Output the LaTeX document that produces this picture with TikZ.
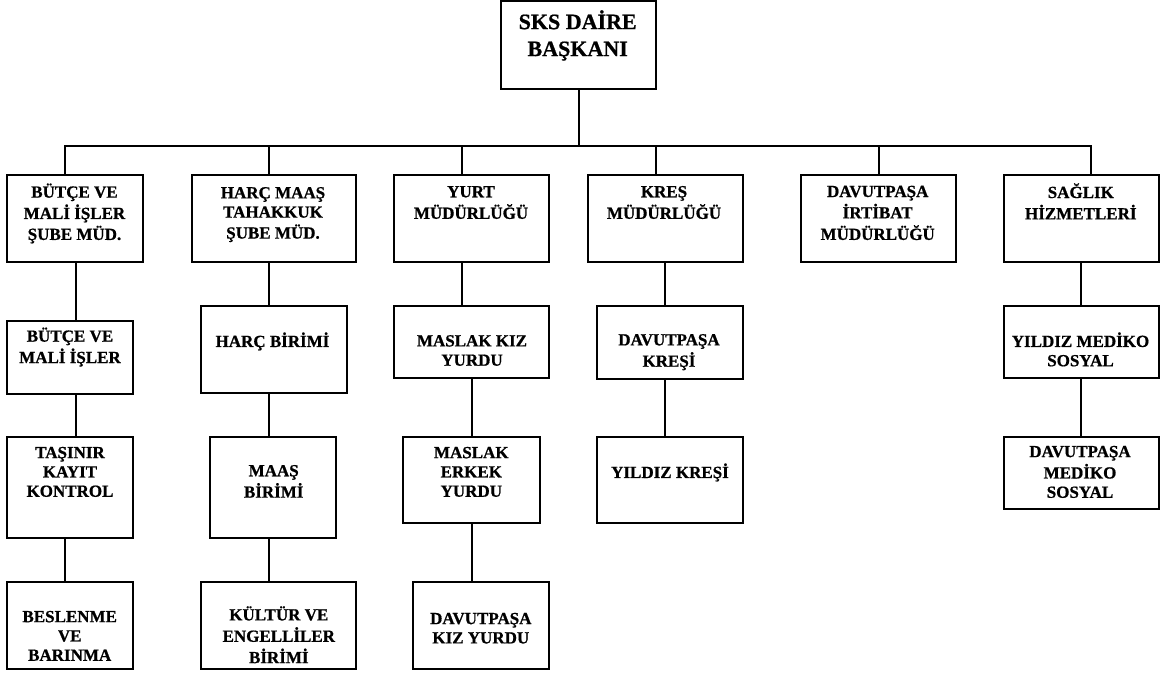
\documentclass[tikz,border=0pt]{standalone}
\usepackage{fontspec}
\setmainfont{Liberation Serif}
% heavy bold face used for every label
\newfontfamily\heavyfont{Liberation Serif Bold}[FakeBold=0.8]
% box given by its left, top, right and bottom edges
\newcommand\orgbox[5]{\node[orgbox, minimum width={#4-#2}, minimum height={#5-#3}] (#1) at ({(#2+#4)/2},{(#3+#5)/2}) {};}
% label text centred at a point
\newcommand\orglabel[4]{\node[lbl] (#1) at (#2,#3) {#4};}
\newcommand\ls{\strut}
\begin{document}
\begin{tikzpicture}[x=1pt,y=-1pt,
  orgbox/.style={draw, line width=1.2pt, inner sep=0pt},
  wire/.style={line width=1.2pt},
  lbl/.style={align=center, font=\heavyfont\fontsize{17}{19.3}\selectfont, inner sep=0pt},
  headlbl/.style={align=center, font=\heavyfont\fontsize{22}{27}\selectfont, inner sep=0pt}]
\useasboundingbox (0,0) rectangle (1162,673);

% head of the department
\orgbox{sks}{501}{1}{656}{89}
\node[headlbl] (sks-t) at (577.7,37.2) {\ls SKS DAİRE\\\ls BAŞKANI};

% first level
\orgbox{b1}{7}{175}{143}{262}
\orgbox{b2}{192}{175}{356}{262}
\orgbox{b3}{394}{175}{549}{262}
\orgbox{b4}{588}{175}{743}{262}
\orgbox{b5}{801}{175}{956}{262}
\orgbox{b6}{1004}{175}{1159}{262}
\orglabel{b1-t}{74.5}{214.6}{\ls BÜTÇE VE\\\ls MALİ İŞLER\\\ls ŞUBE MÜD.}
\orglabel{b2-t}{273}{214.6}{\ls HARÇ MAAŞ\\\ls TAHAKKUK\\\ls ŞUBE MÜD.}
\orglabel{b3-t}{471}{204.2}{\ls YURT\\\ls MÜDÜRLÜĞÜ}
\orglabel{b4-t}{664}{204.2}{\ls KREŞ\\\ls MÜDÜRLÜĞÜ}
\orglabel{b5-t}{877.7}{214.6}{\ls DAVUTPAŞA\\\ls İRTİBAT\\\ls MÜDÜRLÜĞÜ}
\orglabel{b6-t}{1080.8}{204.2}{\ls SAĞLIK\\\ls HİZMETLERİ}

% budget branch
\orgbox{c1}{7}{321}{133}{394}
\orgbox{c2}{7}{437}{133}{538}
\orgbox{c3}{7}{582}{133}{669}
\orglabel{c1-t}{70}{348.2}{\ls BÜTÇE VE\\\ls MALİ İŞLER}
\orglabel{c2-t}{70}{473.6}{\ls TAŞINIR\\\ls KAYIT\\\ls KONTROL}
\orglabel{c3-t}{69.7}{637.6}{\ls BESLENME\\\ls VE\\\ls BARINMA}

% fees and salaries branch
\orgbox{h1}{201}{306}{347}{393}
\orgbox{h2}{210}{437}{336}{538}
\orgbox{h3}{201}{582}{356}{669}
\orglabel{h1-t}{272.5}{342.6}{\ls HARÇ BİRİMİ}
\orglabel{h2-t}{273.7}{483.1}{\ls MAAŞ\\\ls BİRİMİ}
\orglabel{h3-t}{278.8}{637.6}{\ls KÜLTÜR VE\\\ls ENGELLİLER\\\ls BİRİMİ}

% dormitory branch
\orgbox{y1}{394}{306}{549}{378}
\orgbox{y2}{403}{437}{540}{523}
\orgbox{y3}{413}{582}{549}{669}
\orglabel{y1-t}{472}{352.2}{\ls MASLAK KIZ\\\ls YURDU}
\orglabel{y2-t}{471.3}{473.6}{\ls MASLAK\\\ls ERKEK\\\ls YURDU}
\orglabel{y3-t}{480.8}{629.9}{\ls DAVUTPAŞA\\\ls KIZ YURDU}

% nursery branch
\orgbox{k1}{597}{306}{743}{379}
\orgbox{k2}{597}{437}{743}{523}
\orglabel{k1-t}{669}{352.2}{\ls DAVUTPAŞA\\\ls KREŞİ}
\orglabel{k2-t}{670}{473.6}{\ls YILDIZ KREŞİ}

% health branch
\orgbox{s1}{1004}{306}{1159}{378}
\orgbox{s2}{1004}{437}{1159}{509}
\orglabel{s1-t}{1080.5}{352.2}{\ls YILDIZ MEDİKO\\\ls SOSYAL}
\orglabel{s2-t}{1080}{473.6}{\ls DAVUTPAŞA\\\ls MEDİKO\\\ls SOSYAL}

% connectors
\coordinate (bus) at (0,146);
\draw[wire] ([xshift=0.5pt]sks.south) -- ([xshift=0.5pt]sks.south |- bus);
\draw[wire] ([xshift=-10pt]b1.north) -- ([xshift=-10pt]b1.north |- bus)
  -- ([xshift=9.5pt]b6.north |- bus) -- ([xshift=9.5pt]b6.north);
\draw[wire] ([xshift=-5pt]b2.north) -- ([xshift=-5pt]b2.north |- bus);
\draw[wire] ([xshift=-9.5pt]b3.north) -- ([xshift=-9.5pt]b3.north |- bus);
\draw[wire] ([xshift=-9.5pt]b4.north) -- ([xshift=-9.5pt]b4.north |- bus);
\draw[wire] ([xshift=0.5pt]b5.north) -- ([xshift=0.5pt]b5.north |- bus);

\draw[wire] ([xshift=1pt]b1.south) -- ([xshift=1pt]b1.south |- c1.north);
\draw[wire] ([xshift=6pt]c1.south) -- ([xshift=6pt]c1.south |- c2.north);
\draw[wire] ([xshift=-5pt]c2.south) -- ([xshift=-5pt]c2.south |- c3.north);

\draw[wire] ([xshift=-5pt]b2.south) -- ([xshift=-5pt]b2.south |- h1.north);
\draw[wire] ([xshift=-5pt]h1.south) -- ([xshift=-5pt]h1.south |- h2.north);
\draw[wire] ([xshift=-4pt]h2.south) -- ([xshift=-4pt]h2.south |- h3.north);

\draw[wire] ([xshift=-9.5pt]b3.south) -- ([xshift=-9.5pt]b3.south |- y1.north);
\draw[wire] ([xshift=0.5pt]y1.south) -- ([xshift=0.5pt]y1.south |- y2.north);
\draw[wire] ([xshift=0.5pt]y2.south) -- ([xshift=0.5pt]y2.south |- y3.north);

\draw[wire] ([xshift=-0.5pt]b4.south) -- ([xshift=-0.5pt]b4.south |- k1.north);
\draw[wire] ([xshift=-5pt]k1.south) -- ([xshift=-5pt]k1.south |- k2.north);

\draw[wire] ([xshift=-0.5pt]b6.south) -- ([xshift=-0.5pt]b6.south |- s1.north);
\draw[wire] ([xshift=-0.5pt]s1.south) -- ([xshift=-0.5pt]s1.south |- s2.north);
\end{tikzpicture}
\end{document}
